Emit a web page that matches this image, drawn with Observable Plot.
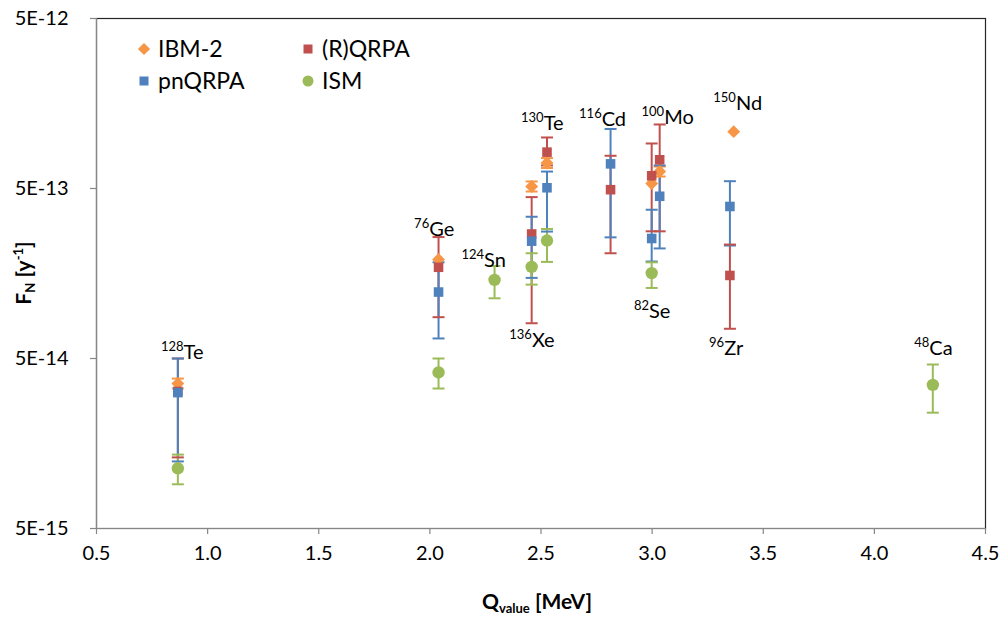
<!DOCTYPE html>
<html>
<head>
<meta charset="utf-8">
<script src="https://cdn.jsdelivr.net/npm/d3@7"></script>
<script src="https://cdn.jsdelivr.net/npm/@observablehq/plot@0.6"></script>
<style>
  html, body { margin: 0; padding: 0; background: #fff; }
  #chart svg { display: block; }
</style>
</head>
<body>
<div id="chart"></div>
<script>
// ---- Data ----
const seriesNames = ["IBM-2", "(R)QRPA", "pnQRPA", "ISM"];

const ibmIsotopes = ["128Te", "76Ge", "136Xe", "130Te", "82Se", "100Mo", "150Nd"];
const ibmQ  = [0.866, 2.039, 2.458, 2.527, 2.998, 3.034, 3.367];
const ibmF  = [3.56e-14, 1.91e-13, 5.14e-13, 7.06e-13, 5.35e-13, 6.29e-13, 1.08e-12];
const ibmLo = [3.33e-14, null, 4.80e-13, 6.60e-13, null, 5.88e-13, null];
const ibmHi = [3.81e-14, null, 5.50e-13, 7.55e-13, null, 6.73e-13, null];

const rqrpaIsotopes = ["128Te", "76Ge", "136Xe", "130Te", "116Cd", "82Se", "100Mo", "96Zr"];
const rqrpaQ  = [0.866, 2.039, 2.458, 2.527, 2.813, 2.998, 3.034, 3.350];
const rqrpaF  = [3.20e-14, 1.72e-13, 2.70e-13, 8.18e-13, 4.92e-13, 5.94e-13, 7.38e-13, 1.54e-13];
const rqrpaLo = [1.31e-14, 8.75e-14, 8.06e-14, 6.83e-13, 2.08e-13, 2.80e-13, 2.80e-13, 7.48e-14];
const rqrpaHi = [5.00e-14, 2.59e-13, 4.45e-13, 9.98e-13, 7.79e-13, 9.20e-13, 1.19e-12, 2.34e-13];

const pnIsotopes = ["128Te", "76Ge", "136Xe", "130Te", "116Cd", "82Se", "100Mo", "96Zr"];
const pnQ  = [0.866, 2.039, 2.458, 2.527, 2.813, 2.998, 3.034, 3.350];
const pnF  = [3.15e-14, 1.23e-13, 2.45e-13, 5.05e-13, 6.98e-13, 2.54e-13, 4.50e-13, 3.92e-13];
const pnLo = [1.24e-14, 6.56e-14, 1.49e-13, 2.79e-13, 2.58e-13, 1.86e-13, 2.22e-13, 2.31e-13];
const pnHi = [5.00e-14, 1.84e-13, 3.41e-13, 6.29e-13, 1.12e-12, 3.75e-13, 6.83e-13, 5.52e-13];

const ismIsotopes = ["128Te", "76Ge", "124Sn", "136Xe", "130Te", "82Se", "48Ca"];
const ismQ  = [0.866, 2.039, 2.291, 2.458, 2.527, 2.998, 4.263];
const ismF  = [1.13e-14, 4.14e-14, 1.45e-13, 1.73e-13, 2.47e-13, 1.59e-13, 3.50e-14];
const ismLo = [9.10e-15, 3.33e-14, 1.13e-13, 1.36e-13, 1.85e-13, 1.30e-13, 2.40e-14];
const ismHi = [1.36e-14, 5.00e-14, 1.75e-13, 2.08e-13, 2.89e-13, 1.84e-13, 4.61e-14];

// isotope annotations (anchor = junction of mass number and symbol, at text baseline)
const labelMass   = ["128", "76", "124", "136", "130", "116", "100", "82", "150", "96", "48"];
const labelSymbol = ["Te", "Ge", "Sn", "Xe", "Te", "Cd", "Mo", "Se", "Nd", "Zr", "Ca"];
const labelQ = [0.8915, 1.997, 2.244, 2.459, 2.512, 2.773, 3.054, 2.986, 3.377, 3.324, 4.247];
const labelF = [5.0e-14, 2.62e-13, 1.72e-13, 5.83e-14, 1.10e-12, 1.17e-12, 1.20e-12, 8.60e-14, 1.44e-12, 5.21e-14, 5.21e-14];

const xTicks = [0.5, 1.0, 1.5, 2.0, 2.5, 3.0, 3.5, 4.0, 4.5];
const xTickLabels = ["0.5", "1.0", "1.5", "2.0", "2.5", "3.0", "3.5", "4.0", "4.5"];
const yTicks = [5e-15, 5e-14, 5e-13, 5e-12];
const yTickLabels = ["5E-15", "5E-14", "5E-13", "5E-12"];

// ---- Styles ----
const seriesColors = ["#F79646", "#C0504D", "#4F81BD", "#9BBB59"];
const FONT = "Lato, 'Open Sans', sans-serif";

// ---- Build tables ----
function rows(series, iso, q, f, lo, hi) {
  return iso.map((d, i) => ({series, isotope: d, q: q[i], f: f[i], lo: lo[i], hi: hi[i]}));
}
const ibm = rows("IBM-2", ibmIsotopes, ibmQ, ibmF, ibmLo, ibmHi);
const rq = rows("(R)QRPA", rqrpaIsotopes, rqrpaQ, rqrpaF, rqrpaLo, rqrpaHi);
const pn = rows("pnQRPA", pnIsotopes, pnQ, pnF, pnLo, pnHi);
const ism = rows("ISM", ismIsotopes, ismQ, ismF, ismLo, ismHi);
const all = [...ibm, ...rq, ...pn, ...ism];
const withErr = all.filter(d => d.lo != null && d.hi != null);
const labels = labelMass.map((m, i) => ({mass: m, sym: labelSymbol[i], q: labelQ[i], f: labelF[i]}));

const nearestIndex = (arr, v) => {
  let best = 0;
  arr.forEach((t, i) => { if (Math.abs(Math.log(t) - Math.log(v)) < Math.abs(Math.log(arr[best]) - Math.log(v))) best = i; });
  return best;
};

const cap = {
  draw(context, size) {
    const r = Math.sqrt(size / Math.PI);
    context.moveTo(-r, 0);
    context.lineTo(r, 0);
  }
};

const plot = Plot.plot({
  width: 1001,
  height: 618,
  marginLeft: 96,
  marginRight: 16,
  marginTop: 18,
  marginBottom: 90,
  style: {fontFamily: FONT, fontSize: "20px", color: "#000", background: "#fff", overflow: "visible"},
  x: {domain: [0.5, 4.5], label: null},
  y: {type: "log", domain: [5e-15, 5e-12], label: null},
  color: {domain: seriesNames, range: seriesColors},
  marks: [
    Plot.frame({stroke: "#262626", strokeWidth: 1.2}),
    Plot.axisX(xTicks, {tickFormat: (d, i) => xTickLabels[nearestIndex(xTicks, d)], tickSize: 6, tickPadding: 11, fontSize: 20, label: null}),
    Plot.axisY(yTicks, {tickFormat: (d, i) => yTickLabels[nearestIndex(yTicks, d)], tickSize: 6, tickPadding: 22, fontSize: 20, label: null}),
    Plot.ruleX([0.5], {stroke: "#868686", strokeWidth: 1.2}),
    Plot.ruleY([5e-15], {stroke: "#868686", strokeWidth: 1.2}),
    // error bars
    Plot.ruleX(withErr, {x: "q", y1: "lo", y2: "hi", stroke: "series", strokeWidth: 2}),
    Plot.dot(withErr, {x: "q", y: "lo", symbol: cap, r: 6, stroke: "series", strokeWidth: 2, fill: "none"}),
    Plot.dot(withErr, {x: "q", y: "hi", symbol: cap, r: 6, stroke: "series", strokeWidth: 2, fill: "none"}),
    // markers
    Plot.dot(ibm, {x: "q", y: "f", symbol: "diamond2", r: 5.8, fill: "series", stroke: null}),
    Plot.dot(rq, {x: "q", y: "f", symbol: "square", r: 5.4, fill: "series", stroke: null}),
    Plot.dot(pn, {x: "q", y: "f", symbol: "square", r: 5.4, fill: "series", stroke: null}),
    Plot.dot(ism, {x: "q", y: "f", symbol: "circle", r: 6.2, fill: "series", stroke: null}),
    // isotope labels
    Plot.text(labels, {x: "q", y: "f", text: "sym", textAnchor: "start", lineAnchor: "bottom", fontSize: 20, fill: "#000"}),
    Plot.text(labels, {x: "q", y: "f", text: "mass", textAnchor: "end", lineAnchor: "bottom", fontSize: 13, dy: -8, fill: "#000"})
  ]
});

document.getElementById("chart").appendChild(plot);

const svg = d3.select(plot);
svg.selectAll('g[aria-label$="-axis tick"]').attr("stroke", "#868686").attr("stroke-width", 1.2);

// Legend (inside plot area, top-left)
const legendItems = [
  {name: seriesNames[0], x: 144, y: 49, type: "diamond"},
  {name: seriesNames[1], x: 308, y: 49, type: "square"},
  {name: seriesNames[2], x: 144, y: 81, type: "square"},
  {name: seriesNames[3], x: 308, y: 81, type: "circle"}
];
const lg = svg.append("g").attr("aria-label", "legend").attr("font-family", FONT).attr("font-size", 23).attr("text-anchor", "start");
legendItems.forEach((it) => {
  const col = seriesColors[seriesNames.indexOf(it.name)];
  if (it.type === "diamond") {
    lg.append("path").attr("d", d3.symbol(d3.symbolDiamond2, 95)()).attr("transform", `translate(${it.x},${it.y})`).attr("fill", col);
  } else if (it.type === "square") {
    lg.append("rect").attr("x", it.x - 4.5).attr("y", it.y - 4.5).attr("width", 9).attr("height", 9).attr("fill", col);
  } else {
    lg.append("circle").attr("cx", it.x).attr("cy", it.y).attr("r", 5.5).attr("fill", col);
  }
  lg.append("text").attr("x", it.x + 14).attr("y", it.y).attr("dy", "0.36em").attr("fill", "#000").attr("text-anchor", "start").text(it.name);
});

// Axis titles
const yt = svg.append("text")
  .attr("transform", "translate(31,273) rotate(-90)")
  .attr("text-anchor", "middle")
  .attr("font-family", FONT).attr("font-weight", "bold").attr("font-size", 21).attr("fill", "#000");
yt.append("tspan").text("F");
yt.append("tspan").attr("font-size", 13).attr("dy", 4).text("N");
yt.append("tspan").attr("dy", -4).text(" [y");
yt.append("tspan").attr("font-size", 13).attr("dy", -8).text("-1");
yt.append("tspan").attr("dy", 8).text("]");

const xt = svg.append("text")
  .attr("x", 537).attr("y", 609)
  .attr("text-anchor", "middle")
  .attr("font-family", FONT).attr("font-weight", "bold").attr("font-size", 21).attr("fill", "#000");
xt.append("tspan").text("Q");
xt.append("tspan").attr("font-size", 13).attr("dy", 4).text("value");
xt.append("tspan").attr("dy", -4).text(" [MeV]");
</script>
</body>
</html>
